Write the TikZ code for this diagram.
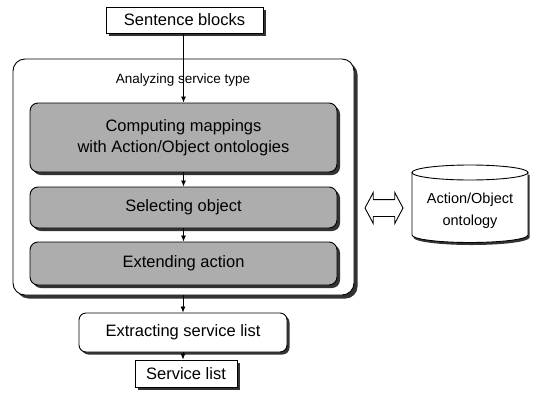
\documentclass[tikz,border=0pt]{standalone}
\usepackage{fontspec}
\setmainfont{Liberation Sans}
\usetikzlibrary{shadows,shapes.arrows,arrows.meta}

\begin{document}
\begin{tikzpicture}[x=1pt,y=-1pt,
  dropsh/.style={drop shadow={shadow xshift=#1,shadow yshift=-#1,fill=black!80,opacity=1}},
  dropsh/.default=2.5pt,
  docbox/.style={draw,line width=0.9pt,fill=white,dropsh,inner sep=0pt,
    font=\fontsize{16.5}{20}\selectfont},
  procbox/.style={docbox,rounded corners=7pt},
  stepbox/.style={draw,line width=0.9pt,fill=black!32,dropsh=3pt,rounded corners=8pt,
    inner sep=0pt,align=center,font=\fontsize{16.5}{21}\selectfont},
  groupbox/.style={draw,line width=0.9pt,fill=white,dropsh=3.5pt,rounded corners=12pt,inner sep=0pt},
  flow/.style={line width=0.8pt,-{Latex[length=6pt,width=5pt]}}
]
\useasboundingbox (0,0) rectangle (537,399);

% input document
\node[docbox,minimum width=157,minimum height=26] (sb) at (184.5,20) {Sentence blocks};

% analysis group with its three steps
\node[groupbox,minimum width=341,minimum height=236] (outer) at (183.5,177) {};
\node[font=\fontsize{13.5}{16}\selectfont] (ast) at (183,80) {Analyzing service type};
\node[stepbox,minimum width=307,minimum height=69] (comp) at (183.5,137.5)
  {Computing mappings\\with Action/Object ontologies};
\node[stepbox,minimum width=307,minimum height=41] (sel) at (183.5,207.5) {Selecting object};
\node[stepbox,minimum width=307,minimum height=43] (ext) at (183.5,263.5) {Extending action};

% extraction and output
\node[procbox,minimum width=208,minimum height=39] (esl) at (183,332.5) {Extracting service list};
\node[docbox,minimum width=102,minimum height=27] (sl) at (186,373.5) {Service list};

% flow arrows
\draw[flow] (sb.south -| comp.north) -- (comp.north);
\draw[flow] (comp) -- (sel);
\draw[flow] (sel) -- (ext);
\draw[flow] (outer.south -| esl.north) -- (esl.north);
\draw[flow] (esl.south) -- (esl.south |- sl.north);

% two-way exchange with the ontology store
\node[double arrow,draw,line width=0.9pt,fill=white,minimum height=38,
  inner xsep=0pt,inner ysep=8pt,double arrow head extend=7pt,
  double arrow tip angle=124] (dbl) at (384,208) {};

% ontology store (cylinder)
\fill[black!80,shift={(1.5,2.5)}] (412,172.5) -- (412,235)
  .. controls (412,239.14) and (437.97,242.5) .. (470,242.5)
  .. controls (502.03,242.5) and (528,239.14) .. (528,235) -- (528,172.5) -- cycle;
\draw[line width=0.9pt,fill=white] (412,172.5) -- (412,235)
  .. controls (412,239.14) and (437.97,242.5) .. (470,242.5)
  .. controls (502.03,242.5) and (528,239.14) .. (528,235) -- (528,172.5);
\draw[line width=0.9pt,fill=white] (470,172.5) ellipse [x radius=58,y radius=7.5];
\node[align=center,font=\fontsize{14.5}{22}\selectfont] (onto) at (470,211) {Action/Object\\ontology};
\end{tikzpicture}
\end{document}
